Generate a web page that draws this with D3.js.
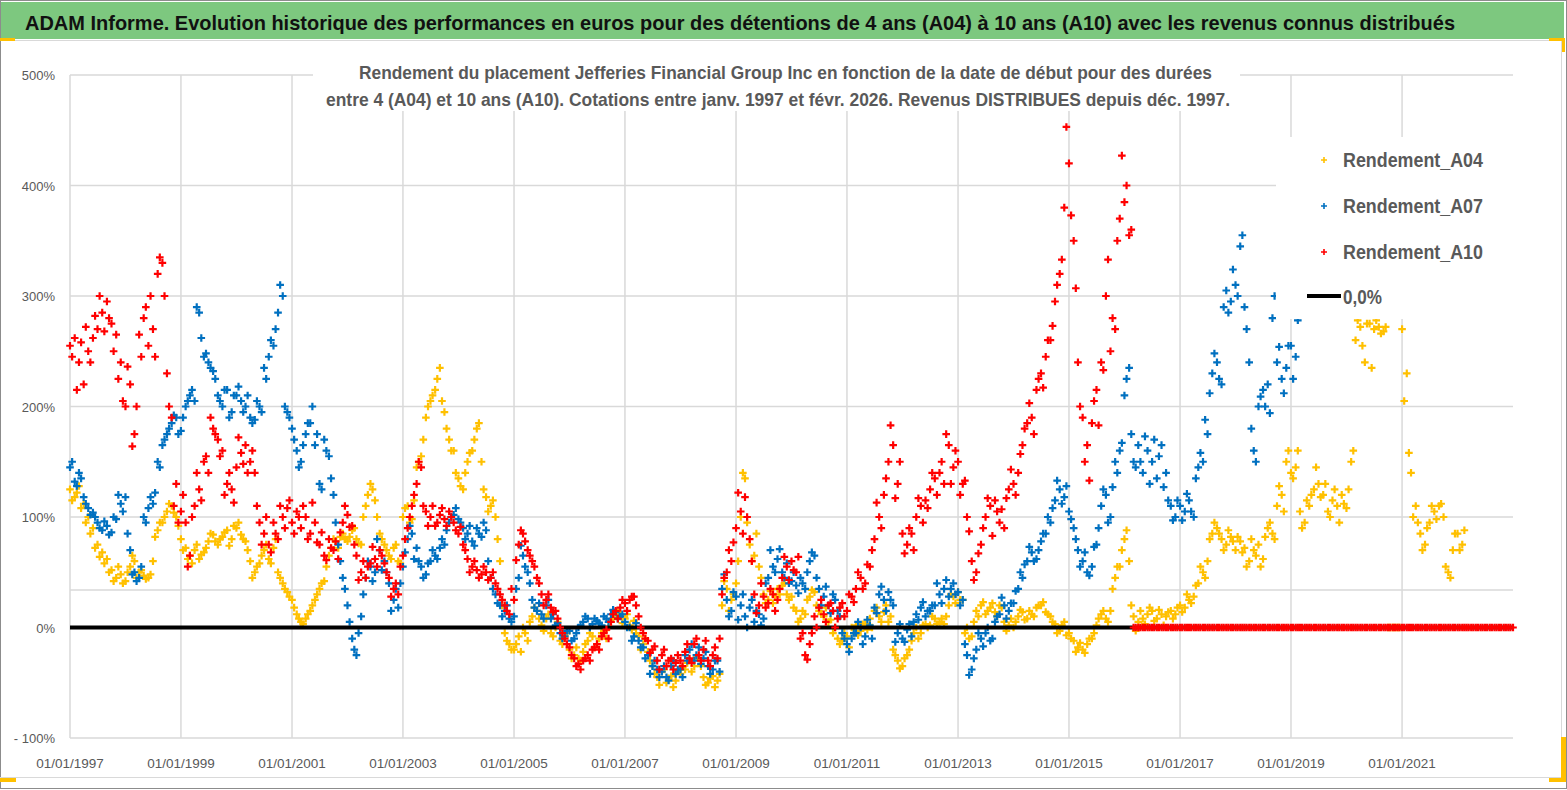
<!DOCTYPE html>
<html>
<head>
<meta charset="utf-8">
<script src="https://cdn.jsdelivr.net/npm/d3@7"></script>
<style>
  body { margin: 0; background: #fff; overflow: hidden; }
  text { font-family: "Liberation Sans", Arial, sans-serif; }
</style>
</head>
<body>
<svg id="chart" width="1567" height="790"></svg>
<script>
// Readings (in %) taken twice a month off the picture: on the 1st and on the 15th.
// First value of every array = janv. 1997, one row per year.
var rendementA04 = [
  125,118,128,112,100,90,75,68,62,52,45,48,
  42,55,60,50,47,45,60,88,95,105,110,100,
  80,72,65,70,62,68,78,84,75,82,88,80,
  90,84,78,60,50,58,70,62,72,50,40,32,
  25,12,5,8,15,25,35,42,65,80,72,85,
  78,88,80,75,110,130,115,85,75,65,72,60,
  100,110,98,145,155,190,205,215,235,195,170,160,
  135,125,150,160,180,150,118,110,100,60,-5,-15,
  -20,-8,0,-12,10,15,2,8,-5,0,-12,-8,
  -20,-25,-28,-22,-12,-8,-15,-5,-10,5,10,12,
  8,2,6,-8,-15,-22,-35,-45,-40,-50,-44,-48,
  -42,-38,-30,-35,-28,-45,-50,-44,-48,20,35,25,
  40,100,135,75,65,55,30,25,22,35,38,30,
  28,15,8,12,28,32,15,10,5,-5,-10,-12,
  -8,0,2,-3,3,8,15,10,14,5,-20,-30,
  -35,-25,-12,0,-5,3,2,8,5,3,20,28,
  32,25,0,-8,15,20,12,18,14,20,5,2,
  0,10,14,8,12,18,20,14,10,3,-3,5,
  -5,-12,-18,-20,-15,-10,2,12,8,15,45,55,
  80,60,10,5,8,12,15,8,12,10,15,12,
  20,18,25,28,40,50,60,85,90,80,75,82,
  70,78,72,60,70,75,62,90,85,110,120,150,
  140,145,105,95,110,125,130,120,105,115,110,120,
  108,150,260,272,240,275,270,272,268,0,0,0,
  270,230,140,110,85,75,95,105,110,100,50,70,
  85,75
];
var rendementA04mid = [
  115,122,108,95,85,72,64,58,50,42,55,40,
  50,65,45,52,44,48,82,95,100,112,104,92,
  70,62,58,75,66,72,85,78,80,86,74,92,
  95,80,70,45,55,65,75,58,80,45,35,28,
  18,8,3,12,20,30,40,55,72,78,82,80,
  82,90,76,100,120,125,100,80,70,62,75,58,
  108,95,115,150,170,200,210,225,205,180,160,140,
  128,140,158,170,185,125,105,115,80,20,-12,-20,
  -15,-22,-5,5,18,8,-3,12,-8,5,-15,-5,
  -28,-18,-30,-15,-5,-18,-10,-3,0,8,14,4,
  12,-2,-5,-20,-10,-30,-42,-52,-38,-46,-54,-40,
  -36,-32,-40,-27,-35,-52,-46,-54,-42,42,15,30,
  60,140,95,60,85,45,22,33,28,30,40,25,
  18,5,15,25,34,20,12,18,7,0,-15,-5,
  -18,-5,-7,3,-2,0,18,5,20,10,-25,-37,
  -28,-20,-5,-10,2,0,10,3,8,10,30,22,
  25,-5,-10,5,10,23,15,22,10,18,-3,8,
  5,16,7,15,10,20,23,12,5,-5,2,-7,
  -10,-22,-14,-23,-10,-5,8,15,5,35,55,70,
  88,20,-3,15,3,18,6,16,2,14,8,18,
  14,30,22,38,55,45,80,95,85,70,88,78,
  82,68,55,80,65,55,82,95,80,128,105,160,
  135,160,90,115,120,145,118,130,100,125,95,112,
  125,160,278,255,275,235,278,266,272,0,0,0,
  205,158,100,95,70,90,110,98,112,55,45,85,
  70,88
];

var rendementA07 = [
  145,132,140,118,108,104,95,88,92,86,98,112,
  118,70,50,45,100,108,112,150,165,175,185,190,
  178,200,210,205,285,245,240,232,210,200,215,195,
  210,205,200,190,188,200,235,245,255,285,300,195,
  180,160,150,175,185,165,130,170,155,120,75,45,
  20,-10,-25,10,45,55,50,70,60,40,25,18,
  55,80,85,72,55,48,60,65,72,75,95,102,
  98,90,85,78,90,82,88,45,30,20,15,8,
  10,45,65,50,25,15,12,20,8,2,-5,-8,
  -3,-10,0,5,8,3,6,2,8,12,14,10,
  5,0,-8,-12,-18,-25,-35,-38,-40,-45,-35,-42,
  -38,-25,-20,-30,-18,-28,-35,-38,-30,35,25,15,
  28,20,10,18,5,12,8,45,55,62,50,58,
  42,38,45,35,60,65,35,28,20,30,15,-5,
  -15,-10,-5,0,-8,2,18,30,25,32,20,-5,
  -10,-2,-8,12,18,10,15,20,30,35,28,40,
  32,25,-25,-38,-20,-10,-5,-12,5,12,20,15,
  22,35,45,60,68,62,78,85,95,115,125,118,
  105,90,70,60,50,55,75,110,120,100,150,160,
  210,235,150,165,140,160,150,135,165,140,110,100,
  110,105,115,100,145,150,175,230,240,220,305,295,
  310,345,290,240,160,200,215,220,280,240,225,235,
  255,245
];
var rendementA07mid = [
  150,128,135,112,102,100,90,96,84,100,120,105,
  85,48,42,55,95,118,122,145,170,180,192,175,
  190,205,215,290,262,248,235,225,205,215,190,210,
  218,195,210,185,205,195,225,260,270,310,200,190,
  170,145,165,185,200,175,125,160,135,95,60,35,
  5,-20,-5,30,60,42,80,52,50,15,35,40,
  68,92,62,60,45,58,70,62,80,88,100,108,
  95,80,92,74,85,95,60,35,22,10,20,5,
  35,74,55,40,18,22,8,25,12,4,-10,-3,
  -12,-5,2,10,0,8,4,10,5,16,8,12,
  0,-12,4,-18,-28,-42,-30,-45,-35,-48,-30,-38,
  -45,-30,-15,-25,-33,-22,-42,-30,-40,48,10,32,
  7,30,0,25,15,2,40,70,50,71,45,40,
  50,31,40,50,68,45,20,37,13,25,10,-10,
  -22,-5,5,-15,7,-10,13,37,15,25,-13,3,
  -13,3,5,7,23,15,20,40,22,43,35,30,
  20,-15,-43,-28,-5,-17,0,-10,10,27,8,22,
  33,50,57,73,60,70,85,100,108,133,112,128,
  98,80,55,68,47,73,90,125,95,127,140,167,
  225,175,145,150,173,130,170,155,127,115,97,115,
  97,121,105,135,158,188,212,248,225,290,285,324,
  300,355,270,180,150,209,200,194,300,254,212,255,
  225,278
];

var rendementA10 = [
  255,262,240,220,250,262,270,285,295,275,265,240,
  200,220,175,265,280,255,270,320,330,230,190,130,
  105,95,65,110,125,150,140,180,170,160,130,125,
  145,158,165,150,140,95,85,75,95,80,100,108,
  95,105,90,100,85,95,75,65,80,70,62,95,
  102,92,65,50,45,58,62,70,58,45,35,30,
  65,90,110,130,145,105,100,92,102,98,105,95,
  85,75,62,55,52,48,50,45,40,30,20,12,
  25,75,85,70,60,45,30,25,18,15,0,-10,
  -18,-28,-33,-30,-25,-20,-15,-8,-2,5,15,18,
  22,25,28,10,-5,-12,-20,-30,-25,-35,-28,-32,
  -30,-22,-28,-15,-25,-20,-30,-25,-28,30,50,60,
  90,105,118,80,30,20,28,22,30,25,45,55,
  60,50,-10,-25,-15,10,18,12,20,15,8,22,
  15,28,35,45,40,55,80,100,120,150,165,130,
  85,75,85,100,110,115,125,135,140,130,165,145,
  150,130,100,60,50,75,100,110,115,95,90,125,
  130,140,165,185,190,215,230,245,260,295,320,380,
  420,350,240,190,165,185,215,240,300,250,270,370,
  385,355,0,0,0,0,0,0,0,0,0,0,
  0,0,0,0,0,0,0,0,0,0,0,0,
  0,0,0,0,0,0,0,0,0,0,0,0,
  0,0,0,0,0,0,0,0,0,0,0,0,
  0,0,0,0,0,0,0,0,0,0,0,0,
  0,0,0,0,0,0,0,0,0,0,0,0,
  0,0,0,0,0,0,0,0,0,0,0,0,
  0
];
var rendementA10mid = [
  245,215,258,272,240,282,300,268,280,250,225,205,
  236,164,200,245,290,300,245,335,300,200,110,95,
  120,55,100,140,115,155,190,175,155,120,140,113,
  172,148,140,160,110,75,100,68,85,110,90,115,
  85,100,110,80,113,77,86,61,72,78,86,110,
  91,75,43,60,55,73,55,65,50,28,40,55,
  80,100,120,150,110,92,110,95,108,92,100,88,
  91,70,50,60,45,55,43,50,35,25,15,35,
  61,88,78,65,55,40,20,30,14,8,-5,-15,
  -25,-35,-38,-28,-30,-18,-20,-5,-10,12,8,25,
  15,28,20,0,-10,-23,-17,-38,-20,-30,-38,-25,
  -35,-15,-32,-10,-30,-12,-35,-18,-10,45,70,77,
  122,85,100,60,13,40,18,35,15,35,64,43,
  52,64,-5,-29,-5,0,25,5,22,0,18,10,
  30,23,50,35,57,70,113,90,135,183,117,150,
  67,90,70,117,95,108,140,120,150,175,130,160,
  120,133,87,43,67,90,117,83,105,107,117,143,
  120,157,180,203,175,225,217,260,273,310,333,453,
  373,307,200,150,133,205,183,233,333,280,350,427,
  400,360,0,0,0,0,0,0,0,0,0,0,
  0,0,0,0,0,0,0,0,0,0,0,0,
  0,0,0,0,0,0,0,0,0,0,0,0,
  0,0,0,0,0,0,0,0,0,0,0,0,
  0,0,0,0,0,0,0,0,0,0,0,0,
  0,0,0,0,0,0,0,0,0,0,0,0,
  0,0,0,0,0,0,0,0,0,0,0,0
];

var seriesNames = ["Rendement_A04", "Rendement_A07", "Rendement_A10"];
var seriesColors = ["#FFC000", "#0070C0", "#FF0000"];
var yTicks = [-100, 0, 100, 200, 300, 400, 500];
var yTickLabels = ["- 100%", "0%", "100%", "200%", "300%", "400%", "500%"];
var xTickYears = [1997, 1999, 2001, 2003, 2005, 2007, 2009, 2011, 2013, 2015, 2017, 2019, 2021];
var extraGrid = 34;

var title = "ADAM Informe. Evolution historique des performances en euros pour des détentions de 4 ans (A04) à 10 ans (A10) avec les revenus connus distribués";
var subtitle1 = "Rendement du placement Jefferies Financial Group Inc en fonction de la date de début pour des durées";
var subtitle2 = "entre 4 (A04) et 10 ans (A10). Cotations entre janv. 1997 et févr. 2026. Revenus DISTRIBUES depuis déc. 1997.";

var svg = d3.select("#chart");
var grey = "#595959";

// frame of the sheet
svg.append("rect").attr("x", 0.5).attr("y", 0.5).attr("width", 1566).attr("height", 788)
  .attr("fill", "#fff").attr("stroke", "#8c8c8c");
svg.append("rect").attr("x", 1).attr("y", 2).attr("width", 1563).attr("height", 37).attr("fill", "#7DC87F");
svg.append("line").attr("x1", 0).attr("x2", 1561).attr("y1", 40.5).attr("y2", 40.5).attr("stroke", "#d9d9d9");
svg.append("line").attr("x1", 1561.5).attr("x2", 1561.5).attr("y1", 40).attr("y2", 777).attr("stroke", "#d9d9d9");
svg.append("line").attr("x1", 0).attr("x2", 1561).attr("y1", 777.5).attr("y2", 777.5).attr("stroke", "#d9d9d9");

// little orange selection marks in the corners
var handles = [[0, 38, 15, 3], [1549, 38, 16, 3], [1562, 38, 3, 14], [0, 778, 16, 4], [1549, 778, 17, 4], [1561, 737, 5, 45]];
handles.forEach(function(h) {
  svg.append("rect").attr("x", h[0]).attr("y", h[1]).attr("width", h[2]).attr("height", h[3]).attr("fill", "#FFC000");
});

svg.append("text").attr("x", 25).attr("y", 30)
  .attr("font-size", 21).attr("font-weight", "bold").attr("fill", "#111")
  .attr("textLength", 1430).attr("lengthAdjust", "spacingAndGlyphs")
  .text(title);

// scales
var x = d3.scaleTime().domain([new Date(1997, 0, 1), new Date(2023, 0, 1)]).range([70, 1513]);
var y = d3.scaleLinear().domain([-100, 500]).range([738, 75]);

var months = d3.timeMonth.range(new Date(1997, 0, 1), new Date(2023, 1, 1));
var midMonths = months.map(function(d) { return d3.timeDay.offset(d, 14); });

// grid
var grid = svg.append("g");
grid.selectAll("line.h").data(yTicks.concat([extraGrid])).enter().append("line")
  .attr("x1", 70).attr("x2", 1513)
  .attr("y1", function(d) { return y(d); }).attr("y2", function(d) { return y(d); })
  .attr("stroke", "#d9d9d9").attr("stroke-width", 1.5);
grid.selectAll("line.v").data(xTickYears).enter().append("line")
  .attr("x1", function(d) { return x(new Date(d, 0, 1)); })
  .attr("x2", function(d) { return x(new Date(d, 0, 1)); })
  .attr("y1", 75).attr("y2", 738)
  .attr("stroke", "#d9d9d9").attr("stroke-width", 1.5);

// axis labels
svg.selectAll("text.ylab").data(yTicks).enter().append("text")
  .attr("x", 55).attr("y", function(d) { return y(d) + 5; })
  .attr("text-anchor", "end").attr("font-size", 13).attr("fill", grey)
  .text(function(d, i) { return yTickLabels[i]; });
var fmt = d3.timeFormat("%d/%m/%Y");
svg.selectAll("text.xlab").data(xTickYears).enter().append("text")
  .attr("x", function(d) { return x(new Date(d, 0, 1)); }).attr("y", 768)
  .attr("text-anchor", "middle").attr("font-size", 13.5).attr("fill", grey)
  .text(function(d) { return fmt(new Date(d, 0, 1)); });

// white box behind the chart subtitle
svg.append("rect").attr("x", 313).attr("y", 58).attr("width", 927).attr("height", 53).attr("fill", "#fff");
svg.append("text").attr("x", 359).attr("y", 79).attr("font-size", 19).attr("font-weight", "bold").attr("fill", grey)
  .attr("textLength", 853).attr("lengthAdjust", "spacingAndGlyphs").text(subtitle1);
svg.append("text").attr("x", 326).attr("y", 106).attr("font-size", 19).attr("font-weight", "bold").attr("fill", grey)
  .attr("textLength", 904).attr("lengthAdjust", "spacingAndGlyphs").text(subtitle2);

var plus = "M-3.8,0H3.8M0,-3.8V3.8";
function drawSeries(values, dates, color) {
  svg.append("g").selectAll("path").data(values).enter().append("path")
    .attr("d", plus)
    .attr("transform", function(d, i) { return "translate(" + x(dates[i]) + "," + y(d) + ")"; })
    .attr("stroke", color).attr("stroke-width", 2.2).attr("fill", "none");
}

drawSeries(rendementA04, months, seriesColors[0]);
drawSeries(rendementA04mid, midMonths, seriesColors[0]);
drawSeries(rendementA07, months, seriesColors[1]);
drawSeries(rendementA07mid, midMonths, seriesColors[1]);

// 0,0% reference line
svg.append("line").attr("x1", 70).attr("x2", 1513).attr("y1", y(0)).attr("y2", y(0))
  .attr("stroke", "#000").attr("stroke-width", 4);

drawSeries(rendementA10, months, seriesColors[2]);
drawSeries(rendementA10mid, midMonths, seriesColors[2]);

// legend
var legend = svg.append("g");
legend.append("rect").attr("x", 1276).attr("y", 137).attr("width", 237).attr("height", 182).attr("fill", "#fff");
var legendY = [160, 206, 252];
seriesNames.forEach(function(name, i) {
  legend.append("path").attr("d", "M-3,0H3M0,-3V3")
    .attr("transform", "translate(1324," + legendY[i] + ")")
    .attr("stroke", seriesColors[i]).attr("stroke-width", 1.6);
  legend.append("text").attr("x", 1343).attr("y", legendY[i] + 7)
    .attr("font-size", 21).attr("font-weight", "bold").attr("fill", grey)
    .attr("textLength", 140).attr("lengthAdjust", "spacingAndGlyphs").text(name);
});
legend.append("line").attr("x1", 1307).attr("x2", 1341).attr("y1", 296).attr("y2", 296)
  .attr("stroke", "#000").attr("stroke-width", 4);
legend.append("text").attr("x", 1343).attr("y", 304)
  .attr("font-size", 21).attr("font-weight", "bold").attr("fill", grey)
  .attr("textLength", 39).attr("lengthAdjust", "spacingAndGlyphs").text("0,0%");
</script>
</body>
</html>
